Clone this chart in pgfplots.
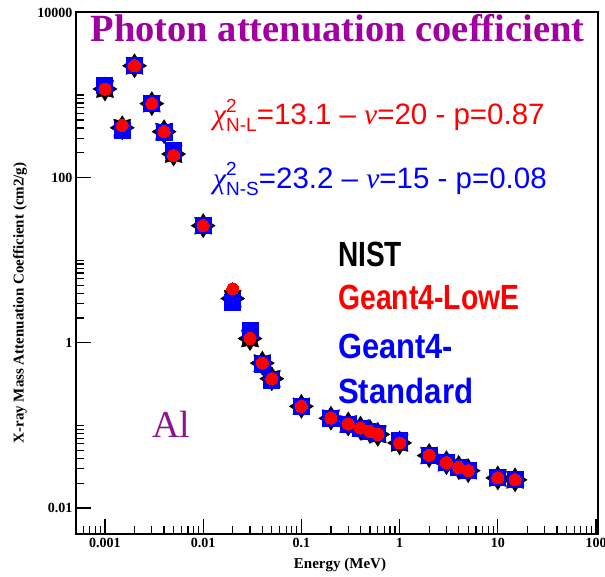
\documentclass[border=0pt]{standalone}
\usepackage{pgfplots}
\pgfplotsset{compat=1.18}
\usepackage{fontspec}
\setmainfont{Liberation Serif}
\setsansfont{Liberation Sans}
\newfontfamily\legfont{Liberation Sans}
\newfontfamily\chifont{Liberation Serif}
\definecolor{titlepurple}{RGB}{160,0,160}
\definecolor{alpurple}{RGB}{140,20,140}
\pgfdeclareplotmark{star8}{%
 \pgfpathmoveto{\pgfpointpolar{0}{\pgfplotmarksize}}%
 \pgfpathlineto{\pgfpointpolar{22.5}{0.65\pgfplotmarksize}}%
 \pgfpathlineto{\pgfpointpolar{45}{\pgfplotmarksize}}%
 \pgfpathlineto{\pgfpointpolar{67.5}{0.65\pgfplotmarksize}}%
 \pgfpathlineto{\pgfpointpolar{90}{\pgfplotmarksize}}%
 \pgfpathlineto{\pgfpointpolar{112.5}{0.65\pgfplotmarksize}}%
 \pgfpathlineto{\pgfpointpolar{135}{\pgfplotmarksize}}%
 \pgfpathlineto{\pgfpointpolar{157.5}{0.65\pgfplotmarksize}}%
 \pgfpathlineto{\pgfpointpolar{180}{\pgfplotmarksize}}%
 \pgfpathlineto{\pgfpointpolar{202.5}{0.65\pgfplotmarksize}}%
 \pgfpathlineto{\pgfpointpolar{225}{\pgfplotmarksize}}%
 \pgfpathlineto{\pgfpointpolar{247.5}{0.65\pgfplotmarksize}}%
 \pgfpathlineto{\pgfpointpolar{270}{\pgfplotmarksize}}%
 \pgfpathlineto{\pgfpointpolar{292.5}{0.65\pgfplotmarksize}}%
 \pgfpathlineto{\pgfpointpolar{315}{\pgfplotmarksize}}%
 \pgfpathlineto{\pgfpointpolar{337.5}{0.65\pgfplotmarksize}}%
 \pgfpathclose
 \pgfusepathqfillstroke}
\begin{document}
\begin{tikzpicture}
\path[use as bounding box] (0,0) rectangle (605pt,576pt);
\begin{axis}[
 at={(76pt,42pt)}, anchor=south west,
 scale only axis, width=522pt, height=522pt,
 xmode=log, ymode=log,
 xmin=5.07e-4, xmax=104.8, ymin=0.00485, ymax=10140,
 axis line style={line width=1.8pt},
 tick style={line width=1.2pt, black},
 major tick length=15pt, minor tick length=8pt,
 tick align=inside,
 xtick pos=left, ytick pos=left,
 xtick={0.001,0.01,0.1,1,10,100},
 xticklabels={0.001,0.01,0.1,1,10,100},
 minor xtick={0.0006,0.0007,0.0008,0.0009,
  0.002,0.003,0.004,0.005,0.006,0.007,0.008,0.009,
  0.02,0.03,0.04,0.05,0.06,0.07,0.08,0.09,
  0.2,0.3,0.4,0.5,0.6,0.7,0.8,0.9,
  2,3,4,5,6,7,8,9,
  20,30,40,50,60,70,80,90},
 ytick={0.01,1,100,10000},
 yticklabels={0.01,1,100,10000},
 minor ytick={0.02,0.03,0.04,0.05,0.06,0.07,0.08,0.09,0.1,
  2,3,4,5,6,7,8,9,10,
  200,300,400,500,600,700,800,900,1000},
 ticklabel style={font=\fontsize{14}{15}\selectfont\bfseries},
 xticklabel style={yshift=-1pt},
]
% NIST
\addplot[only marks, mark=star8, mark size=12pt, mark options={fill=black, draw=black, line width=0.5pt}] coordinates {
(0.001,1185) (0.0015,402.2) (0.002,2263) (0.003,788) (0.004,360.5) (0.005,193.4)
(0.01,26.23) (0.02,3.441) (0.03,1.128) (0.04,0.5685) (0.05,0.3681) (0.1,0.1704)
(0.2,0.1223) (0.3,0.1042) (0.4,0.09276) (0.5,0.08445) (0.6,0.07802) (1,0.06146)
(2,0.04324) (3,0.03541) (4,0.03106) (5,0.02836) (10,0.02318) (15,0.02195)};
% Geant4-Standard
\addplot[only marks, mark=square*, mark size=8pt, mark options={fill=blue, draw=blue, line width=0pt}] coordinates {
(0.001,1300) (0.0015,375) (0.002,2263) (0.003,788) (0.004,355) (0.005,215)
(0.01,26.2) (0.02,3.1) (0.03,1.42) (0.04,0.54) (0.05,0.355) (0.1,0.171)
(0.2,0.123) (0.3,0.104) (0.4,0.093) (0.5,0.085) (0.6,0.080) (1,0.066)
(2,0.0435) (3,0.0355) (4,0.0312) (5,0.0285) (10,0.0235) (15,0.0220)};
% Geant4-LowE
\addplot[only marks, mark=*, mark size=6pt, mark options={fill=red, draw=red, line width=0pt}] coordinates {
(0.001,1180) (0.0015,430) (0.002,2270) (0.003,790) (0.004,362) (0.005,185)
(0.01,26.3) (0.02,4.5) (0.03,1.13) (0.04,0.57) (0.05,0.368) (0.1,0.171)
(0.2,0.123) (0.3,0.104) (0.4,0.093) (0.5,0.0845) (0.6,0.078) (1,0.0615)
(2,0.0435) (3,0.0355) (4,0.031) (5,0.0284) (10,0.0232) (15,0.022)};
\end{axis}
% title
\node[anchor=base, text=titlepurple, inner sep=0pt] at (337.5pt,534pt)
 {\fontsize{38.5}{40}\selectfont\bfseries Photon attenuation coefficient};
% chi2 lines
\node[anchor=base west, text=red, inner sep=0pt] at (213pt,451pt)
 {\sffamily\fontsize{29.5}{31}\selectfont{\chifont\itshape χ}\rlap{\raisebox{12.5pt}{\fontsize{19}{19}\selectfont 2}}\raisebox{-7pt}{\fontsize{19}{19}\selectfont N-L}=13.1 – {\chifont\itshape ν}=20 - p=0.87};
\node[anchor=base west, text=blue, inner sep=0pt] at (213pt,387.7pt)
 {\sffamily\fontsize{29.5}{31}\selectfont{\chifont\itshape χ}\rlap{\raisebox{12.5pt}{\fontsize{19}{19}\selectfont 2}}\raisebox{-7pt}{\fontsize{19}{19}\selectfont N-S}=23.2 – {\chifont\itshape ν}=15 - p=0.08};
% legend text
\node[anchor=base west, text=black, inner sep=0pt] at (338pt,309.3pt) {\scalebox{0.80}[1]{\legfont\bfseries\fontsize{35}{36}\selectfont NIST}};
\node[anchor=base west, text=red, inner sep=0pt] at (338pt,266pt) {\scalebox{0.81}[1]{\legfont\bfseries\fontsize{35}{36}\selectfont Geant4-LowE}};
\node[anchor=base west, text=blue, inner sep=0pt] at (338pt,217.7pt) {\scalebox{0.88}[1]{\legfont\bfseries\fontsize{35}{36}\selectfont Geant4-}};
\node[anchor=base west, text=blue, inner sep=0pt] at (338pt,172pt) {\scalebox{0.89}[1]{\legfont\bfseries\fontsize{35}{36}\selectfont Standard}};
% Al
\node[anchor=base west, text=alpurple, inner sep=0pt] at (152pt,139pt) {\fontsize{38}{40}\selectfont Al};
% axis labels
\node[anchor=base, inner sep=0pt] at (340pt,8pt) {\fontsize{15}{16}\selectfont\bfseries Energy (MeV)};
\node[rotate=90, inner sep=0pt] at (20pt,273pt) {\fontsize{15}{16}\selectfont\bfseries X-ray Mass Attenuation Coefficient (cm2/g)};
\end{tikzpicture}
\end{document}
